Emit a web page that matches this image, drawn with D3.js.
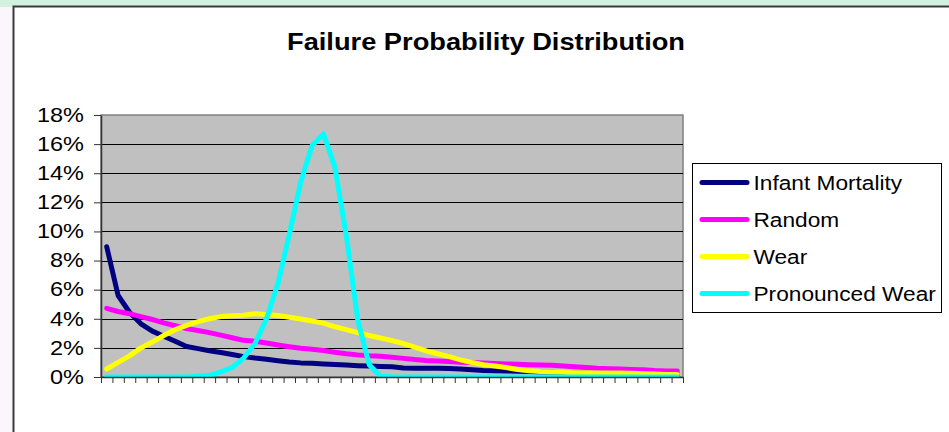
<!DOCTYPE html>
<html>
<head>
<meta charset="utf-8">
<script src="https://cdn.jsdelivr.net/npm/d3@7"></script>
<style>
  body { margin: 0; background: #ffffff; }
  text { font-family: "Liberation Sans", Arial, sans-serif; fill: #000; }
</style>
</head>
<body>
<div id="chart"></div>
<script>

// 51 periods along the x axis (no labels shown)
const periods = d3.range(51)

// failure probability in percent, one value per period
const infantMortality = [8.95, 5.6, 4.45, 3.65, 3.15, 2.8, 2.45, 2.1, 1.95, 1.8,
  1.68, 1.55, 1.4, 1.3, 1.22, 1.12, 1.03, 0.97, 0.95, 0.9,
  0.86, 0.82, 0.78, 0.75, 0.72, 0.7, 0.62, 0.6, 0.6, 0.6,
  0.58, 0.55, 0.5, 0.45, 0.43, 0.42, 0.4, 0.37, 0.35, 0.33,
  0.3, 0.28, 0.27, 0.25, 0.23, 0.22, 0.2, 0.2, 0.18, 0.17, 0.15]

const random = [4.72, 4.5, 4.35, 4.15, 3.95, 3.72, 3.52, 3.33, 3.2, 3.05,
  2.88, 2.7, 2.52, 2.45, 2.33, 2.2, 2.08, 1.97, 1.9, 1.82,
  1.7, 1.6, 1.52, 1.46, 1.42, 1.35, 1.28, 1.2, 1.14, 1.1,
  1.06, 1.02, 0.99, 0.97, 0.93, 0.9, 0.87, 0.85, 0.83, 0.8,
  0.75, 0.7, 0.65, 0.6, 0.57, 0.55, 0.52, 0.5, 0.45, 0.42, 0.42]

const wear = [0.55, 1.0, 1.45, 2.0, 2.4, 2.85, 3.25, 3.55, 3.8, 4.0,
  4.15, 4.2, 4.25, 4.35, 4.3, 4.22, 4.1, 3.98, 3.85, 3.7,
  3.45, 3.25, 3.05, 2.85, 2.68, 2.5, 2.3, 2.05, 1.8, 1.6,
  1.4, 1.18, 1.0, 0.85, 0.75, 0.65, 0.52, 0.43, 0.38, 0.35,
  0.32, 0.3, 0.3, 0.28, 0.28, 0.27, 0.25, 0.22, 0.2, 0.18, 0.17]

const pronouncedWear = [0, 0, 0, 0, 0, 0, 0, 0, 0.05, 0.1,
  0.35, 0.65, 1.3, 2.3, 4.0, 6.4, 9.8, 13.4, 15.9, 16.7,
  14.4, 9.7, 3.9, 0.85, 0.05, 0, 0, 0, 0, 0,
  0, 0, 0, 0, 0, 0, 0, 0, 0, 0,
  0, 0, 0, 0, 0, 0, 0, 0, 0, 0, 0]

const seriesNames = ["Infant Mortality", "Random", "Wear", "Pronounced Wear"]
const seriesColors = ["#000080", "#ff00ff", "#ffff00", "#00ffff"]
const seriesValues = [infantMortality, random, wear, pronouncedWear]

const yTicks = [0, 0.02, 0.04, 0.06, 0.08, 0.10, 0.12, 0.14, 0.16, 0.18]

const chartTitle = "Failure Probability Distribution"


function drawChart () {

  let dimensions = {
    width: 949,
    height: 432,
    margin: { top: 115, right: 266, bottom: 55, left: 101 },
  }
  dimensions.boundedWidth = dimensions.width - dimensions.margin.left - dimensions.margin.right
  dimensions.boundedHeight = dimensions.height - dimensions.margin.top - dimensions.margin.bottom

  const svg = d3.select("#chart")
    .append("svg")
    .attr("width", dimensions.width)
    .attr("height", dimensions.height)

  // slide background around the chart object
  svg.append("rect")
    .attr("width", dimensions.width).attr("height", dimensions.height)
    .attr("fill", "#faf6fb")
  svg.append("rect")
    .attr("width", dimensions.width).attr("height", 7)
    .attr("fill", "#d3f1e0")

  // chart area
  svg.append("rect")
    .attr("x", 13.5).attr("y", 6.5)
    .attr("width", dimensions.width).attr("height", dimensions.height)
    .attr("fill", "#ffffff")
    .attr("stroke", "#3a3a3a")
    .attr("stroke-width", 2)

  svg.append("text")
    .attr("x", 486)
    .attr("y", 50)
    .attr("text-anchor", "middle")
    .attr("font-size", 23)
    .attr("font-weight", "bold")
    .attr("textLength", 398)
    .attr("lengthAdjust", "spacingAndGlyphs")
    .text(chartTitle)

  const bounds = svg.append("g")
    .attr("transform", `translate(${dimensions.margin.left}, ${dimensions.margin.top})`)

  const x = d3.scaleLinear()
    .domain([0, periods.length])
    .range([0, dimensions.boundedWidth])

  const y = d3.scaleLinear()
    .domain([0, 0.18])
    .range([dimensions.boundedHeight, 0])

  // plot area
  bounds.append("rect")
    .attr("width", dimensions.boundedWidth)
    .attr("height", dimensions.boundedHeight)
    .attr("fill", "#c0c0c0")
    .attr("stroke", "#808080")
    .attr("stroke-width", 1.5)

  bounds.append("g")
    .selectAll("line")
    .data(yTicks.slice(1, -1))
    .join("line")
    .attr("x1", 0)
    .attr("x2", dimensions.boundedWidth)
    .attr("y1", d => Math.round(y(d)) + 0.5)
    .attr("y2", d => Math.round(y(d)) + 0.5)
    .attr("stroke", "#000")
    .attr("stroke-width", 1)

  bounds.append("clipPath")
    .attr("id", "plot-clip")
    .append("rect")
    .attr("width", dimensions.boundedWidth)
    .attr("height", dimensions.boundedHeight)

  const line = d3.line()
    .x((d, i) => x(i + 0.5))
    .y(d => y(d / 100))

  bounds.append("g")
    .attr("clip-path", "url(#plot-clip)")
    .selectAll("path")
    .data(seriesValues)
    .join("path")
    .attr("d", d => line(d))
    .attr("fill", "none")
    .attr("stroke", (d, i) => seriesColors[i])
    .attr("stroke-width", 5)
    .attr("stroke-linejoin", "round")
    .attr("stroke-linecap", "round")

  const yAxis = d3.axisLeft(y)
    .tickValues(yTicks)
    .tickFormat(d3.format(".0%"))
    .tickSize(7)
    .tickSizeOuter(0)
    .tickPadding(10)

  const yAxisGroup = bounds.append("g").call(yAxis)
  yAxisGroup.select(".domain").attr("stroke", "#333").attr("stroke-width", 1.5)
  yAxisGroup.selectAll(".tick line").attr("stroke", "#333")
  yAxisGroup.selectAll(".tick text")
    .attr("x", 0)
    .attr("transform", "translate(-17, 0) scale(1.12, 1)")
    .attr("font-size", 21)
    .attr("font-family", "'Liberation Sans', Arial, sans-serif")
    .attr("dy", "0.3em")
    .attr("fill", "#000")

  const xAxis = d3.axisBottom(x)
    .tickValues(d3.range(0, periods.length + 1))
    .tickFormat("")
    .tickSize(6)
    .tickSizeOuter(0)

  const xAxisGroup = bounds.append("g")
    .attr("transform", `translate(0, ${dimensions.boundedHeight})`)
    .call(xAxis)
  xAxisGroup.select(".domain").attr("stroke", "#333").attr("stroke-width", 1.5)
  xAxisGroup.selectAll(".tick line").attr("stroke", "#333")

  // legend
  const legend = svg.append("g")
    .attr("transform", "translate(692.5, 163.5)")

  legend.append("rect")
    .attr("width", 249)
    .attr("height", 149)
    .attr("fill", "#ffffff")
    .attr("stroke", "#000")
    .attr("stroke-width", 1)

  const legendItems = legend.selectAll("g.item")
    .data(seriesNames)
    .join("g")
    .attr("class", "item")
    .attr("transform", (d, i) => `translate(0, ${19 + i * 37})`)

  legendItems.append("line")
    .attr("x1", 9.5)
    .attr("x2", 54.5)
    .attr("stroke", (d, i) => seriesColors[i])
    .attr("stroke-width", 5)
    .attr("stroke-linecap", "round")

  legendItems.append("text")
    .attr("transform", "translate(61, 0) scale(1.08, 1)")
    .attr("dy", "0.36em")
    .attr("font-size", 21)
    .text(d => d)
}

drawChart()
</script>
</body>
</html>
